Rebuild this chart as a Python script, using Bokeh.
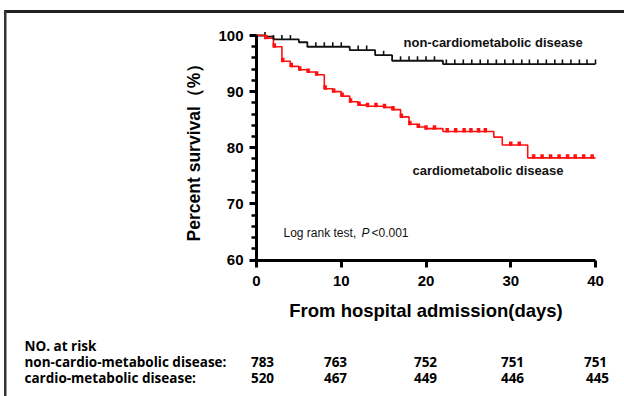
from bokeh.plotting import figure
from bokeh.models import Range1d, Label, BoxAnnotation, FixedTicker
from bokeh.embed import file_html
from bokeh.resources import INLINE

# ---------------- data ----------------
day_ticks = [0, 10, 20, 30, 40]
surv_ticks = [60, 70, 80, 90, 100]
surv_minor = [60, 62, 64, 66, 68, 70, 72, 74, 76, 78, 80, 82, 84, 86, 88, 90, 92, 94, 96, 98, 100]

noncm_times = [0, 1, 2, 5, 6, 11, 14, 16, 22, 40]
noncm_surv = [100, 99.8, 99.3, 98.8, 98.0, 97.4, 96.5, 95.5, 94.9, 94.9]
noncm_censor = [1.0, 2.0, 3.0, 4.0, 7.0, 8.0, 9.0, 10.0, 12.0, 13.0, 15.0, 17.0, 18.0,
                19.0, 20.0, 21.0, 22.4, 23.4, 24.4, 25.4, 26.4, 27.3, 28.3, 29.3, 30.3,
                31.3, 32.2, 33.2, 34.2, 35.2, 36.1, 37.1, 38.1, 39.0, 40.0]

cm_times = [0, 1, 2, 3, 4, 5, 6, 7, 8, 9, 10, 11, 12, 13, 15, 16, 17, 18, 19, 20, 22, 28, 29, 32, 40]
cm_surv = [100, 99.5, 98.0, 95.4, 94.5, 93.9, 93.5, 93.0, 90.5, 90.0, 89.2, 88.2, 87.6, 87.4,
           87.2, 86.8, 85.5, 84.2, 83.7, 83.4, 82.9, 81.9, 80.5, 78.2, 78.2]
cm_censor = [1.1, 2.1, 3.1, 4.1, 5.1, 6.1, 7.1, 8.1, 9.1, 10.1, 11.1, 12.1, 13.1, 14.1, 15.1,
             16.1, 17.1, 18.1, 19.1, 20.0, 21.0, 22.5, 23.5, 24.5, 25.3, 26.2, 27.0, 30.0,
             31.0, 32.7, 33.7, 34.7, 35.7, 36.7, 37.6, 38.6, 39.6]

risk_header = "NO. at risk"
risk_groups = ["non-cardio-metabolic disease:", "cardio-metabolic disease:"]
risk_noncm = [783, 763, 752, 751, 751]
risk_cm = [520, 467, 449, 446, 445]

# ---------------- layout (page pixels -> data) ----------------
W, H = 624, 396
AX_X0_PX, AX_X40_PX = 256, 595      # x = 0 and x = 40
AX_Y100_PX, AX_Y60_PX = 35, 259.5   # y = 100 and y = 60
PXD = (AX_X40_PX - AX_X0_PX) / 40.0
PYU = (AX_Y60_PX - AX_Y100_PX) / 40.0


def dx(px):
    return (px - AX_X0_PX) / PXD


def dy(py):
    return 100 - (py - AX_Y100_PX) / PYU


def surv_at(t, times, vals):
    v = vals[0]
    for tt, vv in zip(times, vals):
        if tt <= t + 1e-9:
            v = vv
    return v


FONT = "Liberation Sans"
TFONT = "Open Sans"

p = figure(width=W, height=H, output_backend="svg", toolbar_location=None,
           x_range=Range1d(dx(0), dx(W)), y_range=Range1d(dy(H), dy(0)),
           min_border=0, min_border_left=0, min_border_right=0,
           min_border_top=0, min_border_bottom=0)
p.outline_line_color = None
p.grid.visible = False
p.background_fill_color = "white"
p.border_fill_color = "white"

# curves
p.step(noncm_times, noncm_surv, mode="after", line_color="#111111", line_width=1.8)
p.step(cm_times, cm_surv, mode="after", line_color="#ff1010", line_width=1.6)

# censor marks
nc_y0 = [surv_at(t, noncm_times, noncm_surv) for t in noncm_censor]
p.segment(x0=noncm_censor, x1=noncm_censor, y0=nc_y0, y1=[v + 4.5 / PYU for v in nc_y0],
          line_color="#111111", line_width=1.6)
cm_y0 = [surv_at(t, cm_times, cm_surv) for t in cm_censor]
p.segment(x0=cm_censor, x1=cm_censor, y0=[v - 1.0 / PYU for v in cm_y0],
          y1=[v + 3.5 / PYU for v in cm_y0], line_color="#ff1010", line_width=3.5)

# axes (placed at fixed data locations so the frame covers the whole canvas)
for ax in (p.xaxis[0], p.yaxis[0]):
    ax.axis_line_width = 3
    ax.axis_line_color = "black"
    ax.major_tick_line_width = 3
    ax.major_tick_line_color = "black"
    ax.major_tick_out = 7
    ax.major_tick_in = 0
    ax.major_label_text_font = FONT
    ax.major_label_text_font_style = "bold"
    ax.major_label_text_font_size = "15px"
    ax.major_label_text_color = "black"
    ax.axis_label_text_font = FONT
    ax.axis_label_text_font_style = "bold"
    ax.axis_label_text_color = "black"

p.xaxis.fixed_location = 60
p.xaxis.ticker = FixedTicker(ticks=day_ticks)
p.xaxis.bounds = (0, 40)
p.xaxis.minor_tick_line_color = None
p.xaxis.major_label_standoff = 9
p.xaxis.axis_label = "From hospital admission(days)"
p.xaxis.axis_label_text_font_size = "18.5px"
p.xaxis.axis_label_standoff = 10

p.yaxis.fixed_location = 0
p.yaxis.ticker = FixedTicker(ticks=surv_ticks, minor_ticks=surv_minor)
p.yaxis.bounds = (60, 100)
p.yaxis.minor_tick_line_color = "black"
p.yaxis.minor_tick_line_width = 2.5
p.yaxis.minor_tick_out = 5
p.yaxis.minor_tick_in = 0
p.yaxis.major_label_standoff = 6
p.yaxis.axis_label = "Percent survival（%）"
p.yaxis.axis_label_text_font_size = "17.5px"
p.yaxis.axis_label_standoff = 11


def lab(px, py, text, font=FONT, style="normal", size="13px", align="left", color="#111111"):
    p.add_layout(Label(x=dx(px), y=dy(py), text=text, text_font=font,
                       text_font_style=style, text_font_size=size, text_color=color,
                       text_align=align, text_baseline="middle"))


# curve labels
lab(403, 42, "non-cardiometabolic disease", style="bold")
lab(412, 170, "cardiometabolic disease", style="bold")
lab(283, 232, "Log rank test,", size="12px")
lab(361, 232, "P", style="italic", size="12px")
lab(371, 232, "<0.001", size="12px")

# risk table
TSIZE = "13.5px"
row_y = [345, 361, 377]
col_x = [262, 335, 425, 512, 595]
lab(24, row_y[0], risk_header, font=TFONT, style="bold", size=TSIZE, color="black")
lab(24, row_y[1], risk_groups[0], font=TFONT, style="bold", size=TSIZE, color="black")
lab(24, row_y[2], risk_groups[1], font=TFONT, style="bold", size=TSIZE, color="black")
for i, (a, b) in enumerate(zip(risk_noncm, risk_cm)):
    lab(col_x[i], row_y[1], str(a), font=TFONT, style="bold", size=TSIZE, align="center", color="black")
    lab(col_x[i] + (2 if i == 4 else 0), row_y[2], str(b), font=TFONT, style="bold", size=TSIZE,
        align="center", color="black")

# frame border (top and left)
p.add_layout(BoxAnnotation(left=dx(3.5), right=dx(640), top=dy(9.5), bottom=dy(12.5),
                           fill_color="#222222", fill_alpha=1, line_color=None))
p.add_layout(BoxAnnotation(left=dx(3.5), right=dx(6), top=dy(9.5), bottom=dy(420),
                           fill_color="#333333", fill_alpha=1, line_color=None))

open("out.html", "w").write(file_html(p, INLINE))
